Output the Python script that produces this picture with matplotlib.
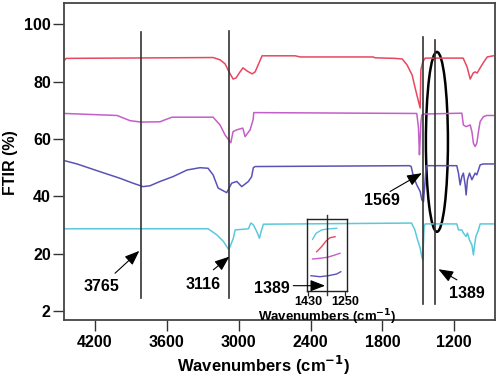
import matplotlib
matplotlib.use("Agg")
import matplotlib.pyplot as plt
from matplotlib.patches import Ellipse

plt.rcParams['font.family'] = ['Liberation Sans', 'DejaVu Sans']
plt.rcParams['font.weight'] = 'bold'
plt.rcParams['mathtext.default'] = 'bf'

# ---------------- data ----------------
red_w = [4451, 4442, 3214, 3156, 3114, 3081, 3047, 3022, 2989, 2964, 2930, 2888, 2863, 2838, 2805,
         2529, 2487, 1878, 1861, 1694, 1635, 1594, 1552, 1527, 1502, 1485, 1479, 1463, 1443,
         1126, 1093, 1067, 1042, 1026, 1009, 984, 959, 925, 875]
red_v = [87.6, 88.1, 88.4, 87.6, 86.2, 83.4, 80.9, 81.3, 83.4, 84.8, 83.7, 82.7, 83.4, 85.8, 89.0,
         89.0, 88.6, 88.6, 88.3, 88.1, 87.9, 85.8, 82.3, 77.8, 73.6, 70.8, 84.1, 86.9, 88.2,
         88.2, 85.1, 80.9, 83.0, 83.4, 83.0, 84.8, 86.5, 88.6, 89.0]

mag_w = [4451, 4016, 3908, 3816, 3657, 3615, 3557, 3214, 3156, 3114, 3066, 3047, 3016, 2966, 2947,
         2905, 2880, 2874, 1513, 1499, 1491, 1485, 1479, 1471, 1457, 1137, 1124, 1101, 1067, 1053,
         1040, 1026, 1012, 998, 984, 956, 928, 875]
mag_v = [68.9, 68.2, 66.4, 65.9, 66.0, 66.7, 67.6, 67.6, 64.9, 61.4, 58.7, 62.6, 63.2, 63.8, 60.8,
         63.2, 66.7, 69.2, 68.9, 63.9, 54.5, 59.7, 65.6, 68.4, 68.7, 69.0, 64.9, 64.3, 64.9, 62.6,
         58.5, 57.4, 58.5, 62.6, 66.1, 67.8, 68.2, 68.2]

blue_w = [4451, 4350, 4158, 3991, 3883, 3799, 3741, 3657, 3548, 3431, 3323, 3256, 3214, 3172, 3100,
          3059, 3016, 2975, 2919, 2892, 2878, 2863, 1574, 1560, 1541, 1513, 1485, 1471, 1457, 1443,
          1435, 1179, 1165, 1151, 1137, 1124, 1109, 1101, 1090, 1073, 1053, 1040, 1026, 1012, 998,
          984, 956, 875]
blue_v = [52.4, 51.3, 48.6, 46.3, 44.6, 43.4, 43.7, 45.2, 46.9, 49.2, 50.0, 49.8, 47.5, 42.9, 41.3,
          44.6, 45.2, 43.4, 45.2, 46.9, 50.0, 50.4, 50.7, 50.4, 46.9, 44.0, 41.7, 38.8, 38.2, 45.8,
          50.7, 50.7, 48.1, 44.0, 46.9, 48.1, 44.0, 40.5, 45.8, 48.1, 45.8, 46.9, 48.1, 47.5, 49.2,
          51.0, 51.3, 51.3]

cyan_w = [4459, 3256, 3183, 3128, 3086, 3072, 3045, 3030, 2919, 2899, 2878, 2849, 2827, 2813, 2794,
          1557, 1530, 1507, 1485, 1471, 1463, 1452, 1443, 1179, 1165, 1137, 1124, 1101, 1090, 1073,
          1053, 1040, 1032, 1020, 998, 984, 875]
cyan_v = [28.7, 28.7, 26.6, 24.3, 21.6, 22.5, 25.4, 28.3, 28.7, 30.7, 30.1, 27.7, 25.4, 27.7, 30.3,
          30.7, 28.4, 24.9, 22.0, 19.0, 17.9, 29.5, 30.4, 30.4, 28.3, 28.3, 27.2, 26.0, 27.2, 24.8,
          23.1, 19.6, 22.5, 26.0, 28.3, 30.4, 30.4]

# inset curves (inset wavenumber axis 1430-1250, arbitrary vertical units)
in_cyan_w = [1409, 1392, 1365, 1337, 1291]
in_cyan_v = [72.1, 80.5, 85.1, 86.5, 87.4]
in_red_w = [1389, 1365, 1343, 1324, 1299]
in_red_v = [54.8, 61.8, 69.7, 74.3, 75.7]
in_mag_w = [1409, 1373, 1337, 1299, 1275]
in_mag_v = [44.6, 45.6, 47.0, 50.2, 52.6]
in_blue_w = [1417, 1373, 1332, 1291, 1271]
in_blue_v = [21.3, 19.9, 21.3, 23.7, 26.9]

x_ticks = [4200, 3600, 3000, 2400, 1800, 1200]
y_ticks = [0, 20, 40, 60, 80, 100]
y_tick_labels = ['2', '20', '40', '60', '80', '100']
inset_ticks = [1430, 1250]

# marker lines: (position, y bottom, y top)
vlines = [(3816, 4.5, 97.2), (3078, 4.6, 97.7), (1464, 2.6, 95.6), (1359, 2.6, 94.5)]
# annotations: label, text pos, arrow start, arrow tip
annots = [("3765", (4144, 8.6), (4033, 13.2), (3830, 21.0)),
          ("3116", (3295, 9.2), (3212, 14.4), (3078, 19.0)),
          ("1569", (1805, 38.5), (1736, 41.7), (1471, 48.1)),
          ("1389", (1095, 6.0), (1178, 10.9), (1332, 14.6))]

RED = '#e8475f'
MAG = '#c45ec8'
BLUE = '#5b52b8'
CYAN = '#5cc8dc'

fig = plt.figure(figsize=(5.0, 3.78), dpi=100)
ax = fig.add_axes([0.128, 0.1534, 0.862, 0.8386])

lw = 1.1
ax.plot(red_w, red_v, color=RED, lw=lw)
ax.plot(mag_w, mag_v, color=MAG, lw=lw)
ax.plot(blue_w, blue_v, color=BLUE, lw=lw)
ax.plot(cyan_w, cyan_v, color=CYAN, lw=lw)

for xv, y0, y1 in vlines:
    ax.plot([xv, xv], [y0, y1], color='#333333', lw=1.2)

ax.add_patch(Ellipse((1345, 59), 184, 62.7, fill=False, ec='black', lw=1.8))

for lab, tpos, a0, a1 in annots:
    ax.annotate("", xy=a1, xytext=a0,
                arrowprops=dict(arrowstyle='-|>,head_length=0.9,head_width=0.35',
                                color='black', lw=0.8, shrinkA=0, shrinkB=0))
    ax.text(tpos[0], tpos[1], lab, ha='center', va='center', fontsize=11.5, fontweight='bold')

ax.set_xlim(4459, 860)
ax.set_ylim(-3.1, 107.4)
ax.set_xticks(x_ticks)
ax.set_yticks(y_ticks)
ax.set_yticklabels(y_tick_labels)
ax.tick_params(direction='out', length=8, width=1.0, labelsize=11.5, color='#333333')
ax.tick_params(axis='x', pad=3)
ax.tick_params(axis='y', pad=1.5)
for lbl in ax.get_xticklabels() + ax.get_yticklabels():
    lbl.set_fontweight('bold')
for s in ax.spines.values():
    s.set_color('#444444')
    s.set_linewidth(1.3)

ax.set_xlabel("Wavenumbers (cm$^{-1}$)", fontsize=12, fontweight='bold', va='center')
ax.xaxis.set_label_coords(0.464, -0.142)
ax.set_ylabel("FTIR (%)", fontsize=11.5, fontweight='bold', va='center')
ax.yaxis.set_label_coords(-0.123, 0.498)

# inset
ins = fig.add_axes([0.6134, 0.2302, 0.080, 0.1897])
ilw = 1.0
ins.plot(in_cyan_w, in_cyan_v, color=CYAN, lw=ilw)
ins.plot(in_red_w, in_red_v, color=RED, lw=ilw)
ins.plot(in_mag_w, in_mag_v, color=MAG, lw=ilw)
ins.plot(in_blue_w, in_blue_v, color=BLUE, lw=ilw)
ins.plot([1340, 1340], [-5.6, 105.9], color='#333333', lw=1.0, clip_on=False)
ins.set_xlim(1438, 1242)
ins.set_ylim(0, 100)
ins.set_xticks(inset_ticks)
ins.set_yticks([])
ins.tick_params(direction='out', length=3.4, width=0.9, labelsize=9, pad=0.5, color='#333333')
for lbl in ins.get_xticklabels():
    lbl.set_fontweight('bold')
for s in ins.spines.values():
    s.set_color('#222222')
    s.set_linewidth(1.0)
ins.set_xlabel("Wavenumbers (cm$^{-1}$)", fontsize=9.5, fontweight='bold', labelpad=-1)
ins.patch.set_alpha(0)
ins.annotate("", xy=(1348, 7.4), xytext=(1504, 7.4), annotation_clip=False,
             arrowprops=dict(arrowstyle='-|>,head_length=0.9,head_width=0.35',
                             color='black', lw=0.8, shrinkA=0, shrinkB=0))
ins.text(1610, 3.8, "1389", ha='center', va='center', fontsize=11.5, fontweight='bold',
         clip_on=False)

fig.savefig("out.png", dpi=100)
